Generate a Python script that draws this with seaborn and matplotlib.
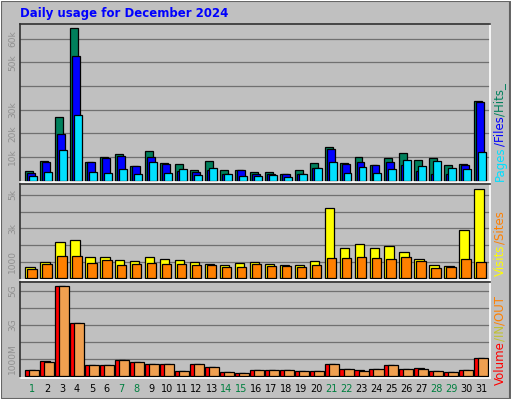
import numpy as np
import pandas as pd
import matplotlib
matplotlib.use("Agg")
import matplotlib.pyplot as plt
import seaborn as sns
from matplotlib.patches import Rectangle

# ─── DATA ──────────────────────────────────────────────────────
days = list(range(1, 32))
weekend_days = [1, 7, 8, 14, 15, 21, 22, 28, 29]

hits = [3900, 8200, 27000, 64400, 7700, 9900, 11100, 6100, 12400, 7300, 6900,
        4400, 8200, 4400, 4400, 3500, 3500, 2700, 4400, 7300, 14100, 7300,
        9900, 6500, 9400, 11500, 8600, 9400, 6500, 6900, 33700]
files = [3400, 7700, 19600, 52500, 7700, 9400, 10300, 6100, 9900, 6900, 3900,
         3800, 4400, 3000, 4400, 3000, 2700, 2700, 2700, 5200, 13200, 6900,
         7700, 6500, 7700, 6500, 3900, 2700, 2700, 6500, 33100]
pages = [1800, 3500, 12800, 27600, 3500, 3100, 4800, 2700, 7700, 3100, 4800,
         2300, 5200, 2700, 1800, 1800, 2300, 1400, 2700, 5200, 7700, 3100,
         5600, 3100, 4800, 8600, 6100, 8200, 5200, 4800, 12000]

visits = [660, 960, 2160, 2280, 1260, 1260, 1080, 1020, 1260, 1140, 1080, 960,
          840, 780, 900, 960, 840, 780, 780, 1020, 4200, 1800, 2040, 1800,
          1920, 1560, 1140, 780, 720, 2880, 5340]
sites = [540, 840, 1320, 1320, 900, 1080, 780, 840, 900, 840, 840, 780, 780,
         660, 660, 840, 720, 720, 660, 780, 1200, 1200, 1260, 1200, 1140, 1260,
         1020, 600, 660, 1140, 960]

# volume in GB
volume = [0.33, 0.86, 5.27, 3.10, 0.63, 0.63, 0.92, 0.80, 0.69, 0.69, 0.27,
          0.69, 0.51, 0.22, 0.16, 0.33, 0.33, 0.33, 0.27, 0.27, 0.69, 0.39,
          0.33, 0.39, 0.63, 0.39, 0.45, 0.27, 0.22, 0.33, 1.04]
vol_out = [0.33, 0.80, 5.27, 3.10, 0.63, 0.63, 0.92, 0.80, 0.69, 0.69, 0.27,
           0.69, 0.51, 0.22, 0.16, 0.33, 0.33, 0.33, 0.27, 0.27, 0.69, 0.39,
           0.27, 0.39, 0.63, 0.39, 0.39, 0.27, 0.22, 0.33, 1.04]

TITLE = "Daily usage for December 2024"

C_HITS, C_FILES, C_PAGES = "#00805c", "#0000ff", "#00e0ff"
C_VISITS, C_SITES = "#ffff00", "#ff8000"
C_VOL, C_IN, C_OUT = "#ff0000", "#c0c030", "#f0a050"
BG = "#c0c0c0"
# ────────────────────────────────────────────────────────────────

sns.set_style("white")
plt.rcParams["font.family"] = ["DejaVu Sans"]

fig = plt.figure(figsize=(5.12, 4.0), dpi=100)
fig.patch.set_facecolor(BG)
# bevelled outer frame
fig.patches.append(Rectangle((0.002, 0.003), 0.994, 0.994, transform=fig.transFigure,
                             fill=False, edgecolor="#606060", lw=1.5))
fig.patches.append(Rectangle((0.0, 0.0), 1.0, 1.0, transform=fig.transFigure,
                             fill=False, edgecolor="white", lw=1.5))

fig.text(20 / 512, 1 - 14 / 400, TITLE, color="#0000ff", fontsize=8.5,
         fontweight="bold", va="center", ha="left")

left, width = 20 / 512, 470 / 512
ax_top = fig.add_axes([left, 1 - 182 / 400, width, 158 / 400])
ax_mid = fig.add_axes([left, 1 - 280 / 400, width, 96 / 400])
ax_bot = fig.add_axes([left, 1 - 378 / 400, width, 96 / 400])

xs = np.array(days, dtype=float)


def bars(ax, offset, vals, color, w):
    sns.barplot(x=xs + offset, y=vals, native_scale=True, width=w, color=color,
                edgecolor="black", linewidth=0.9, saturation=1, ax=ax)


def style(ax, ylim, grid, labels):
    ax.set_facecolor(BG)
    ax.set_xlim(0.2, 31.6)
    ax.set_ylim(*ylim)
    ax.set_yticks(grid)
    ax.set_yticklabels(labels, rotation=90, va="center", fontsize=6.5, color="#909090")
    ax.tick_params(axis="y", length=0, pad=2)
    ax.grid(axis="y", color="#707070", lw=0.9)
    ax.set_axisbelow(True)
    ax.set_xlabel("")
    ax.set_ylabel("")
    for s in ("left", "top"):
        ax.spines[s].set_color("#303030")
    for s in ("right", "bottom"):
        ax.spines[s].set_color("white")
    for s in ax.spines.values():
        s.set_linewidth(1.2)


bars(ax_top, -0.185, hits, C_HITS, 0.53)
bars(ax_top, -0.05, files, C_FILES, 0.53)
bars(ax_top, 0.08, pages, C_PAGES, 0.53)
style(ax_top, (-550, 66200), [10000, 20000, 30000, 40000, 50000, 60000],
      ["10k", "20k", "30k", "", "50k", "60k"])
ax_top.set_xticks([])

bars(ax_mid, -0.135, visits, C_VISITS, 0.63)
bars(ax_mid, 0.0, sites, C_SITES, 0.63)
style(ax_mid, (-100, 5660), [1000, 2000, 3000, 4000, 5000],
      ["1000", "", "3k", "", "5k"])
ax_mid.set_xticks([])

bars(ax_bot, -0.12, volume, C_VOL, 0.67)
bars(ax_bot, 0.15, vol_out, C_OUT, 0.67)
style(ax_bot, (-0.12, 5.53), [1, 2, 3, 4, 5], ["1000M", "", "3G", "", "5G"])
ax_bot.set_xticks(days)
ax_bot.set_xticklabels([str(d) for d in days], fontsize=7)
ax_bot.tick_params(axis="x", length=0, pad=4)
for lab, d in zip(ax_bot.get_xticklabels(), days):
    lab.set_color("#008040" if d in weekend_days else "black")

# coloured, rotated legend labels on the right
fig.canvas.draw()
renderer = fig.canvas.get_renderer()


def stacked_label(x_px, y_px, parts, size=8.5):
    y = y_px
    for txt, col in parts:
        t = fig.text(x_px / 512, 1 - y / 400, txt, color=col, fontsize=size,
                     rotation=90, ha="center", va="bottom")
        bb = t.get_window_extent(renderer)
        y -= bb.height


stacked_label(500, 181, [("Pages", C_PAGES), ("/Files", C_FILES), ("/Hits_", C_HITS)])
stacked_label(500, 276, [("Visits", C_VISITS), ("/Sites", C_SITES)])
stacked_label(500, 385, [("Volume", C_VOL), ("/IN", C_IN), ("/OUT", C_SITES)])

fig.savefig("out.png", dpi=100, facecolor=fig.get_facecolor())
